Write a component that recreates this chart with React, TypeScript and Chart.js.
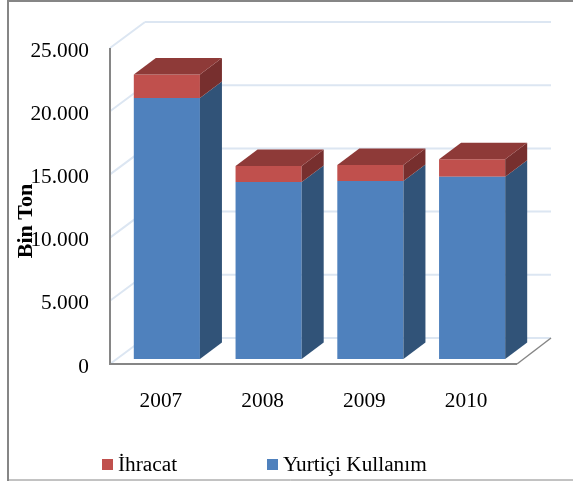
import React, { useEffect, useRef } from "react";
import { Chart, registerables } from "chart.js";

Chart.register(...registerables);

const categories = ["2007", "2008", "2009", "2010"];
const yurticiValues = [20650, 14000, 14080, 14420];
const ihracatValues = [1850, 1270, 1270, 1380];
const yTicks = [0, 5000, 10000, 15000, 20000, 25000];

const FONT = '"Liberation Serif", serif';
const AXIS = "#868686";
const WALL = "#DCE6F2";
const BLUE = "#4F81BD";
const RED = "#C0504D";
const BLUE_SIDE = "#315378";
const RED_SIDE = "#772F2E";
const RED_TOP = "#8E3A38";

const DX = 22;
const DY = 16.5;

function line(ctx: CanvasRenderingContext2D, x1: number, y1: number, x2: number, y2: number, color: string, w: number) {
  ctx.strokeStyle = color;
  ctx.lineWidth = w;
  ctx.beginPath();
  ctx.moveTo(x1, y1);
  ctx.lineTo(x2, y2);
  ctx.stroke();
}

function poly(ctx: CanvasRenderingContext2D, pts: number[][], color: string) {
  ctx.fillStyle = color;
  ctx.beginPath();
  pts.forEach((p, i) => (i ? ctx.lineTo(p[0], p[1]) : ctx.moveTo(p[0], p[1])));
  ctx.closePath();
  ctx.fill();
}

const scene3d = {
  id: "scene3d",
  beforeDatasetsDraw(chart: any) {
    const { ctx, scales } = chart;
    const y = scales.y;
    ctx.save();
    // frame
    line(ctx, 8, 0, 8, 481, AXIS, 2);
    line(ctx, 8, 1, 573, 1, AXIS, 2);
    line(ctx, 8, 480, 573, 480, AXIS, 1);
    // walls
    yTicks.forEach((v) => {
      const p = y.getPixelForValue(v);
      line(ctx, 110, p + 5, 145, p - 21, WALL, 2);
      line(ctx, 145, p - 21, 551, p - 21, WALL, 2);
    });
    // axes
    const p0 = y.getPixelForValue(0);
    const pMax = y.getPixelForValue(yTicks[yTicks.length - 1]);
    line(ctx, 110, pMax + 5, 110, p0 + 5, AXIS, 2);
    line(ctx, 109, p0 + 5, 517, p0 + 5, AXIS, 2);
    line(ctx, 517, p0 + 5, 551, p0 - 21, AXIS, 1.5);
    ctx.restore();
  },
  afterDatasetsDraw(chart: any) {
    const { ctx } = chart;
    ctx.save();
    const last = chart.data.datasets.length - 1;
    chart.data.datasets.forEach((_: any, di: number) => {
      const sideColor = di === last ? RED_SIDE : BLUE_SIDE;
      chart.getDatasetMeta(di).data.forEach((bar: any) => {
        const right = bar.x + bar.width / 2;
        const left = bar.x - bar.width / 2;
        poly(
          ctx,
          [
            [right, bar.y],
            [right + DX, bar.y - DY],
            [right + DX, bar.base - DY],
            [right, bar.base],
          ],
          sideColor
        );
        if (di === last) {
          poly(
            ctx,
            [
              [left, bar.y],
              [left + DX, bar.y - DY],
              [right + DX, bar.y - DY],
              [right, bar.y],
            ],
            RED_TOP
          );
        }
      });
    });
    // axis title
    const y = chart.scales.y;
    ctx.fillStyle = "#000";
    ctx.font = `bold 22px ${FONT}`;
    ctx.textAlign = "center";
    ctx.textBaseline = "middle";
    ctx.translate(26, (y.top + y.bottom) / 2 + 20);
    ctx.rotate(-Math.PI / 2);
    ctx.fillText("Bin Ton", 0, 0);
    ctx.restore();

    // legend
    ctx.save();
    ctx.font = `21.3px ${FONT}`;
    ctx.textBaseline = "middle";
    ctx.textAlign = "left";
    const startX = [102, 267];
    [...chart.data.datasets].reverse().forEach((ds: any, i: number) => {
      ctx.fillStyle = ds.backgroundColor;
      ctx.fillRect(startX[i], 459, 11, 11);
      ctx.fillStyle = "#000";
      ctx.fillText(ds.label, startX[i] + 16, 465);
    });
    ctx.restore();
  },
};

export default function App() {
  const ref = useRef<HTMLCanvasElement>(null);
  useEffect(() => {
    const chart = new Chart(ref.current as HTMLCanvasElement, {
      type: "bar",
      data: {
        labels: categories,
        datasets: [
          { label: "Yurtiçi Kullanım", data: yurticiValues, backgroundColor: BLUE, borderWidth: 0 },
          { label: "İhracat", data: ihracatValues, backgroundColor: RED, borderWidth: 0 },
        ],
      },
      options: {
        responsive: false,
        animation: false,
        layout: { padding: { left: 7, right: 50, top: 43, bottom: 0 } },
        plugins: { legend: { display: false }, tooltip: { enabled: false }, title: { display: false } },
        datasets: { bar: { categoryPercentage: 1, barPercentage: 0.65 } },
        scales: {
          x: {
            stacked: true,
            grid: { display: false },
            border: { display: false },
            ticks: {
              color: "#000",
              font: { family: FONT, size: 21.3 },
              padding: 22,
              labelOffset: -6,
              maxRotation: 0,
            },
            afterFit: (s: any) => {
              s.height = 122;
            },
          },
          y: {
            stacked: true,
            min: 0,
            max: 25000,
            grid: { display: false },
            border: { display: false },
            ticks: {
              stepSize: 5000,
              color: "#000",
              font: { family: FONT, size: 21.3 },
              padding: 19,
              labelOffset: 8,
              callback: (v: any) => String(v).replace(/\B(?=(\d{3})+$)/g, "."),
            },
            afterFit: (s: any) => {
              s.width = 109;
            },
          },
        },
      } as any,
      plugins: [scene3d],
    });
    return () => chart.destroy();
  }, []);
  return (
    <canvas
      ref={ref}
      width={573}
      height={481}
      style={{ position: "absolute", left: 0, top: 0, width: 573, height: 481, background: "#fff" }}
    />
  );
}
